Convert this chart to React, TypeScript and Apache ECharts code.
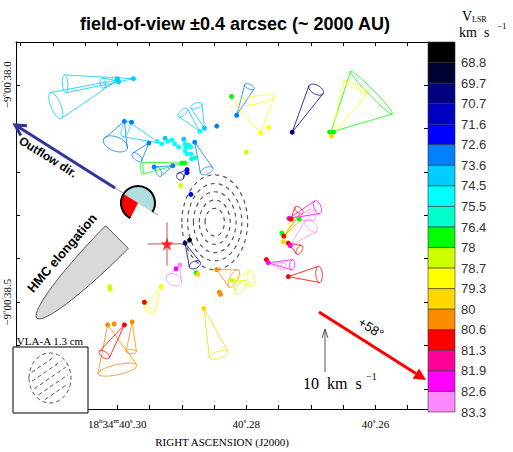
import React, { useEffect, useRef } from "react";
import * as echarts from "echarts";

const TITLE = "field-of-view ±0.4 arcsec (~ 2000 AU)";

// colour bar: bin boundaries (km/s) and bin colours, top to bottom
const vlsrBoundaries = [68.8, 69.7, 70.7, 71.6, 72.6, 73.6, 74.5, 75.5, 76.4, 78, 78.7, 79.3, 80, 80.6, 81.3, 81.9, 82.6, 83.3];
const vlsrColors = ["#000000", "#000033", "#000080", "#0000c0", "#0000ff", "#0080ff", "#00ccff", "#00ffff", "#00ffcc", "#00ff00", "#ccff00", "#ffff00", "#ffd700", "#ff8c00", "#ff0000", "#ff0099", "#ff00ff", "#ff88ff"];

// RA in units of 0.001 s of time (300 = 18h34m40.300s); Dec in units of 0.01" (3800 = -9°00'38.00")
const raTicks = [255, 260, 265, 270, 275, 280, 285, 290, 295, 300, 305, 310, 315];
const raLabelTicks = [260, 280, 300];
const decTicks = [3800, 3810, 3820, 3830, 3840, 3850, 3860, 3870];
const decLabelTicks = [3800, 3850];

// maser spots: [RA, Dec, V_LSR]
const spots = [
  [300.0, 3798.6, 74.0], [299.8, 3799.3, 74.0], [297.5, 3798.6, 74.0],
  [298.9, 3808.4, 73.1], [297.8, 3808.6, 73.1], [295.1, 3813.4, 73.1],
  [294.3, 3818.9, 73.1], [291.4, 3818.6, 73.1], [293.8, 3813.0, 75.0],
  [293.1, 3813.6, 75.0], [292.6, 3812.3, 74.0], [292.2, 3813.0, 75.0],
  [291.5, 3812.7, 75.0], [291.1, 3813.6, 75.0], [290.5, 3814.3, 75.0],
  [289.7, 3812.5, 74.0], [289.5, 3813.6, 75.0], [289.4, 3814.3, 75.0],
  [288.9, 3813.9, 76.0], [288.6, 3814.3, 75.0], [289.5, 3815.2, 75.0],
  [289.2, 3815.9, 75.0], [288.6, 3815.9, 75.0], [288.0, 3813.2, 73.1],
  [288.5, 3817.0, 76.0], [288.0, 3816.8, 76.0], [290.0, 3818.0, 77.2],
  [289.5, 3818.0, 77.2], [289.2, 3819.5, 72.1], [289.2, 3820.2, 72.1],
  [290.2, 3823.2, 78.3], [288.6, 3825.2, 72.1], [287.2, 3810.7, 75.0],
  [286.5, 3810.0, 74.0], [284.6, 3809.5, 73.1], [281.5, 3807.0, 73.1],
  [282.3, 3802.7, 77.2], [277.8, 3811.1, 79.0], [276.5, 3809.8, 79.0],
  [280.0, 3815.5, 78.3], [272.9, 3810.9, 70.2], [267.1, 3810.9, 77.2],
  [266.5, 3810.9, 77.2], [266.8, 3811.8, 79.6], [289.5, 3836.4, 70.2],
  [288.8, 3835.7, 68.3], [290.9, 3842.3, 82.2], [290.3, 3841.4, 82.9],
  [287.8, 3843.2, 77.2], [287.5, 3843.6, 79.6], [301.2, 3846.4, 78.3],
  [301.1, 3847.0, 78.3], [293.2, 3846.4, 79.0], [295.8, 3850.0, 80.9],
  [301.5, 3855.2, 80.3], [300.5, 3855.0, 80.3], [298.9, 3855.2, 80.9],
  [297.7, 3854.5, 80.3], [286.6, 3851.4, 79.6], [284.6, 3842.5, 80.3],
  [282.2, 3845.0, 78.3], [284.2, 3847.7, 80.3], [284.0, 3848.2, 80.3],
  [273.4, 3830.7, 82.2], [273.1, 3830.9, 80.9], [271.8, 3830.9, 77.2],
  [274.5, 3834.1, 77.2], [274.2, 3834.8, 80.9], [274.3, 3836.1, 79.6],
  [273.5, 3836.4, 80.9], [273.2, 3837.0, 82.2], [276.9, 3840.2, 80.9],
  [276.6, 3840.9, 82.2], [273.5, 3844.1, 80.9],
];

// 3-D velocity cones: [RA, Dec, vx (km/s, +west), vy (km/s, +north), half aperture (km/s), base axis ratio, V_LSR]
const cones = [
  [297.5, 3798.6, -16.0, -1.2, 2.1, 0.3, 74.0],
  [300.0, 3798.9, -14.4, -6.0, 3.3, 0.35, 74.0],
  [299.8, 3799.1, -3.7, -0.5, 1.2, 0.5, 74.0],
  [298.9, 3808.4, -2.1, -5.3, 3.0, 0.55, 73.1],
  [293.5, 3813.4, -7.9, 3.3, 1.9, 0.45, 74.0],
  [295.1, 3813.4, -2.8, -3.3, 1.4, 0.5, 73.1],
  [288.0, 3813.2, 2.8, -6.7, 1.6, 0.5, 73.1],
  [289.7, 3818.0, -9.8, -1.2, 1.4, 0.2, 77.2],
  [291.4, 3818.6, -3.3, -1.4, 1.2, 0.5, 73.1],
  [289.2, 3819.5, -1.6, -1.6, 0.9, 0.9, 70.2],
  [287.2, 3810.7, -4.0, 4.4, 1.4, 0.45, 74.0],
  [286.5, 3810.0, -1.9, 5.3, 1.4, 0.45, 74.0],
  [281.5, 3807.0, 3.0, 6.7, 1.2, 0.45, 73.1],
  [277.8, 3811.1, -1.4, 7.7, 4.7, 0.2, 79.0],
  [272.9, 3810.9, 5.6, 10.0, 1.9, 0.55, 70.2],
  [266.9, 3810.9, 9.5, 9.3, 7.0, 0.1, 77.2],
  [266.8, 3811.8, 5.7, 11.6, 3.2, 0.15, 79.0],
  [289.5, 3836.4, 2.3, -5.1, 1.4, 0.6, 70.2],
  [290.3, 3841.4, -1.4, -3.5, 1.9, 0.7, 82.9],
  [284.6, 3842.5, 4.0, -2.1, 2.3, 0.4, 80.3],
  [282.2, 3845.0, 2.1, -1.6, 1.9, 0.5, 78.3],
  [282.2, 3845.0, 4.4, 0.5, 1.9, 0.4, 79.0],
  [293.2, 3846.4, -2.8, -5.6, 1.4, 0.4, 79.0],
  [301.5, 3855.2, 2.3, -10.5, 4.7, 0.25, 80.3],
  [298.9, 3855.2, -4.7, -7.0, 1.4, 0.5, 80.9],
  [297.7, 3854.5, -0.2, -7.0, 1.2, 0.4, 80.3],
  [286.6, 3851.4, 3.5, -10.9, 2.3, 0.35, 79.6],
  [273.4, 3830.7, 6.7, 2.6, 1.6, 0.5, 82.2],
  [273.1, 3830.9, 1.9, 2.1, 1.2, 0.5, 80.9],
  [273.2, 3831.1, 5.1, 1.2, 1.4, 0.5, 82.9],
  [273.2, 3837.0, 4.9, 4.7, 1.9, 0.5, 82.9],
  [273.5, 3836.4, 2.6, -1.6, 1.2, 0.5, 80.9],
  [274.3, 3836.1, 2.3, 5.1, 0.5, 0.5, 79.0],
  [274.2, 3834.8, 3.5, 4.0, 0.5, 0.5, 80.3],
  [276.6, 3840.9, 5.6, -0.5, 1.2, 0.5, 82.2],
  [276.6, 3840.9, 3.5, -0.9, 0.9, 0.6, 82.9],
  [273.5, 3844.1, 7.2, 0.5, 1.9, 0.4, 80.9],
];

// continuum source (star) with position errors: [RA, Dec, errRA, errDec]
const sourcePos = [[292.3, 3836.6, 3.0, 5.0]];
// VLA 1.3 cm continuum contours: [RA, Dec, semi-axis RA, semi-axis Dec]
const contourLevels = [
  [284.9, 3831.6, 5.1, 10.9],
  [284.9, 3831.6, 4.2, 8.9],
  [284.9, 3831.6, 3.3, 7.0],
  [284.9, 3831.6, 2.4, 5.1],
  [284.9, 3831.6, 1.5, 3.2],
];

const MAS_PER_KMS = 9.8; // 10 km/s arrow = 98 mas
const MAS_PER_RA_UNIT = 14.81;
const MAS_PER_DEC_UNIT = 10;
const K_RA = MAS_PER_KMS / MAS_PER_RA_UNIT;
const K_DEC = MAS_PER_KMS / MAS_PER_DEC_UNIT;

function colorFor(v: number) {
  let i = 0;
  while (i < vlsrBoundaries.length && v >= vlsrBoundaries[i]) i++;
  return vlsrColors[Math.min(i, vlsrColors.length - 1)];
}

const SERIF = '"Liberation Serif", "DejaVu Serif", serif';
const SANS = '"Liberation Sans", Arial, sans-serif';

function halfEllipsePts(cx: number, cy: number, ux: number, uy: number, a: number, b: number) {
  const L = Math.hypot(ux, uy);
  ux /= L; uy /= L;
  const nx = -uy, ny = ux;
  const pts: number[][] = [];
  for (let i = 0; i <= 40; i++) {
    const t = -Math.PI / 2 + (i / 40) * Math.PI;
    pts.push([cx + ux * a * Math.cos(t) + nx * b * Math.sin(t), cy + uy * a * Math.cos(t) + ny * b * Math.sin(t)]);
  }
  return pts;
}

function hatchLines(cx: number, cy: number, rx: number, ry: number) {
  const out: any[] = [];
  const dx = Math.cos(0.6), dy = -Math.sin(0.6);
  const mx = -dy, my = dx;
  for (const s of [-15, -7.5, 0, 7.5, 15]) {
    const px = s * mx, py = s * my;
    const A = (dx * dx) / (rx * rx) + (dy * dy) / (ry * ry);
    const B = 2 * ((px * dx) / (rx * rx) + (py * dy) / (ry * ry));
    const C = (px * px) / (rx * rx) + (py * py) / (ry * ry) - 1;
    const D = B * B - 4 * A * C;
    if (D <= 0) continue;
    const t1 = (-B - Math.sqrt(D)) / (2 * A) + 3;
    const t2 = (-B + Math.sqrt(D)) / (2 * A) - 3;
    if (t2 <= t1) continue;
    out.push({
      type: "line", z: 101,
      shape: { x1: cx + px + t1 * dx, y1: cy + py + t1 * dy, x2: cx + px + t2 * dx, y2: cy + py + t2 * dy },
      style: { stroke: "#555", lineWidth: 1, lineDash: [4, 3] },
    });
  }
  return out;
}

export default function App() {
  const ref = useRef<HTMLDivElement>(null);
  useEffect(() => {
    if (!ref.current) return;
    const chart = echarts.init(ref.current, null, { renderer: "svg" });

    const raFormatter = (v: number) => {
      const frac = "." + String(Math.round(v / 10) % 100).padStart(2, "0");
      if (v === Math.max(...raLabelTicks)) return `{n|18}{s|h}{n|34}{s|m}{n|40}{s|s}{n|${frac}}`;
      return `{n|40}{s|s}{n|${frac}}`;
    };
    const decFormatter = (v: number) => `{n|−9}{s|o}{n|00}{s|′}{n|${(v / 100).toFixed(1)}}`;
    const rich = {
      n: { fontSize: 11, fontFamily: SERIF, color: "#000", lineHeight: 13 },
      s: { fontSize: 7, fontFamily: SERIF, color: "#000", lineHeight: 7, verticalAlign: "top" },
    };

    const mainX = {
      type: "value", inverse: true, min: 251.85, max: 315.7, gridIndex: 0,
      splitLine: { show: false },
      axisLine: { show: true, onZero: false, lineStyle: { color: "#000", width: 1 } },
      axisTick: { show: true, inside: true, length: 4, customValues: raTicks, lineStyle: { color: "#000" } },
    };
    const mainY = {
      type: "value", inverse: true, min: 3790.16, max: 3874.55, gridIndex: 0,
      splitLine: { show: false },
      axisLine: { show: true, onZero: false, lineStyle: { color: "#000", width: 1 } },
      axisTick: { show: true, inside: true, length: 4, customValues: decTicks, lineStyle: { color: "#000" } },
    };

    const blueStart = (-148 * Math.PI) / 180;
    const blueEnd = (32 * Math.PI) / 180;
    const redStart = (117 * Math.PI) / 180;
    const redEnd = (212 * Math.PI) / 180;

    const oTip = [15, 125];
    const oU = [0.846, 0.533];
    const wing = (tip: number[], u: number[], ang: number, len: number) => {
      const c = Math.cos(ang), s = Math.sin(ang);
      return [tip[0] + len * (u[0] * c - u[1] * s), tip[1] + len * (u[0] * s + u[1] * c)];
    };
    const rTip = [426, 380];
    const rU = [0.845, 0.535];
    const rBase = [rTip[0] - 12 * rU[0], rTip[1] - 12 * rU[1]];

    const option: any = {
      animation: false,
      backgroundColor: "#fff",
      grid: [
        { left: 13, top: 42, width: 415, height: 371, show: false },
        { left: 428, top: 42, width: 27, height: 370, show: false },
      ],
      xAxis: [
        {
          ...mainX, position: "bottom",
          axisLabel: { show: true, customValues: raLabelTicks, formatter: raFormatter, rich, margin: 8 },
          name: "RIGHT ASCENSION (J2000)", nameLocation: "middle", nameGap: 27,
          nameTextStyle: { fontFamily: SERIF, fontSize: 11, color: "#000" },
        },
        { ...mainX, position: "top", axisLabel: { show: false } },
        { type: "value", gridIndex: 1, min: 0, max: 1, show: false },
      ],
      yAxis: [
        {
          ...mainY, position: "left",
          axisLabel: { show: true, customValues: decLabelTicks, formatter: decFormatter, rich, rotate: 90, margin: 3 },
        },
        { ...mainY, position: "right", axisLabel: { show: false } },
        {
          type: "value", gridIndex: 1, min: 0, max: 18, interval: 1, inverse: true, position: "right",
          splitLine: { show: false }, axisLine: { show: false }, axisTick: { show: false },
          axisLabel: {
            show: true, margin: 6, fontFamily: SANS, fontSize: 13, color: "#333",
            formatter: (v: number) => (v >= 1 ? String(vlsrBoundaries[Math.round(v) - 1]) : ""),
          },
        },
      ],
      series: [
        {
          type: "custom", name: "contours", xAxisIndex: 0, yAxisIndex: 0, data: contourLevels,
          encode: { x: 0, y: 1 }, silent: true,
          renderItem: (params: any, api: any) => {
            const c = api.coord([api.value(0), api.value(1)]);
            const ex = api.coord([api.value(0) + api.value(2), api.value(1) + api.value(3)]);
            return {
              type: "ellipse",
              shape: { cx: c[0], cy: c[1], rx: Math.abs(ex[0] - c[0]), ry: Math.abs(ex[1] - c[1]) },
              style: { fill: "none", stroke: "#555", lineWidth: 1.2, lineDash: [4, 4] },
            };
          },
        },
        {
          type: "custom", name: "cones", xAxisIndex: 0, yAxisIndex: 0, data: cones,
          encode: { x: 0, y: 1 }, silent: true,
          renderItem: (params: any, api: any) => {
            const ra = api.value(0), dec = api.value(1);
            const vx = api.value(2), vy = api.value(3), hw = api.value(4), r = api.value(5), v = api.value(6);
            const a = api.coord([ra, dec]);
            const b = api.coord([ra - vx * K_RA, dec - vy * K_DEC]);
            const refp = api.coord([ra - hw * K_RA, dec]);
            const h = Math.abs(refp[0] - a[0]);
            let ux = b[0] - a[0], uy = b[1] - a[1];
            const L = Math.hypot(ux, uy) || 1;
            ux /= L; uy /= L;
            const nx = -uy, ny = ux;
            const pts: number[][] = [];
            for (let i = 0; i <= 48; i++) {
              const t = (i / 48) * 2 * Math.PI;
              pts.push([
                b[0] + nx * h * Math.cos(t) + ux * h * r * Math.sin(t),
                b[1] + ny * h * Math.cos(t) + uy * h * r * Math.sin(t),
              ]);
            }
            const color = colorFor(v);
            const st = { stroke: color, fill: "none", lineWidth: 1, opacity: 0.8 };
            return {
              type: "group",
              children: [
                { type: "polyline", shape: { points: pts }, style: st },
                { type: "polyline", shape: { points: [[b[0] + nx * h, b[1] + ny * h], a, [b[0] - nx * h, b[1] - ny * h]] }, style: st },
              ],
            };
          },
        },
        {
          type: "scatter", name: "spots", xAxisIndex: 0, yAxisIndex: 0, data: spots,
          encode: { x: 0, y: 1 }, symbolSize: 5, silent: true,
          itemStyle: { color: (p: any) => colorFor(p.value[2]), opacity: 1 },
        },
        {
          type: "custom", name: "source errors", xAxisIndex: 0, yAxisIndex: 0, data: sourcePos,
          encode: { x: 0, y: 1 }, silent: true,
          renderItem: (params: any, api: any) => {
            const ra = api.value(0), dec = api.value(1), er = api.value(2), ed = api.value(3);
            const l = api.coord([ra + er, dec]), rr = api.coord([ra - er, dec]);
            const t = api.coord([ra, dec - ed]), bb = api.coord([ra, dec + ed]);
            const st = { stroke: "#c85050", lineWidth: 1 };
            return {
              type: "group",
              children: [
                { type: "line", shape: { x1: l[0], y1: l[1], x2: rr[0], y2: rr[1] }, style: st },
                { type: "line", shape: { x1: t[0], y1: t[1], x2: bb[0], y2: bb[1] }, style: st },
              ],
            };
          },
        },
        {
          type: "scatter", name: "source", xAxisIndex: 0, yAxisIndex: 0, data: sourcePos.map((d) => [d[0], d[1]]),
          symbol: "path://M0,-10 L2.35,-3.24 L9.51,-3.09 L3.8,1.24 L5.88,8.09 L0,4 L-5.88,8.09 L-3.8,1.24 L-9.51,-3.09 L-2.35,-3.24 Z",
          symbolSize: 13, silent: true, itemStyle: { color: "#ff0000" },
        },
        {
          type: "custom", name: "colorbar", xAxisIndex: 2, yAxisIndex: 2,
          data: vlsrColors.map((c, i) => [i]), silent: true,
          renderItem: (params: any, api: any) => {
            const i = api.value(0);
            const p0 = api.coord([0, i]);
            const p1 = api.coord([1, i + 1]);
            return {
              type: "rect",
              shape: { x: p0[0], y: Math.min(p0[1], p1[1]), width: p1[0] - p0[0], height: Math.abs(p1[1] - p0[1]) },
              style: { fill: vlsrColors[i], stroke: "#333", lineWidth: 0.6 },
            };
          },
        },
      ],
      graphic: [
        { type: "text", x: 235, y: 24, style: { text: TITLE, fontFamily: SANS, fontWeight: "bold", fontSize: 18, fill: "#000", align: "center", verticalAlign: "middle" } },
        { type: "text", x: 462, y: 16, style: { text: "V", fontFamily: SERIF, fontSize: 14, fill: "#000", align: "left", verticalAlign: "middle" } },
        { type: "text", x: 472, y: 19, style: { text: "LSR", fontFamily: SERIF, fontSize: 8, fill: "#000", align: "left", verticalAlign: "middle" } },
        { type: "text", x: 459, y: 32, style: { text: "km  s", fontFamily: SERIF, fontSize: 14, fill: "#000", align: "left", verticalAlign: "middle" } },
        { type: "text", x: 497, y: 26, style: { text: "−1", fontFamily: SERIF, fontSize: 9, fill: "#000", align: "left", verticalAlign: "middle" } },

        // outflow direction
        { type: "line", z: 50, shape: { x1: 115, y1: 188, x2: 158, y2: 215 }, style: { stroke: "#999", lineWidth: 1 } },
        { type: "line", z: 50, shape: { x1: 115, y1: 188, x2: 17, y2: 126 }, style: { stroke: "#333399", lineWidth: 3 } },
        { type: "polyline", z: 50, shape: { points: [wing(oTip, oU, 0.5, 12), oTip, wing(oTip, oU, -0.5, 12)] }, style: { stroke: "#333399", lineWidth: 3, fill: "none" } },
        { type: "text", z: 50, x: 48, y: 157, rotation: -0.56, style: { text: "Outflow dir.", fontFamily: SANS, fontWeight: "bold", fontSize: 12, fill: "#000", align: "center", verticalAlign: "middle" } },
        { type: "sector", z: 51, shape: { cx: 138, cy: 203, r: 17, r0: 0, startAngle: blueStart, endAngle: blueEnd, clockwise: true }, style: { fill: "#b0dde0" } },
        { type: "sector", z: 51, shape: { cx: 138, cy: 203, r: 17, r0: 0, startAngle: redStart, endAngle: redEnd, clockwise: true }, style: { fill: "#ff0000" } },
        { type: "arc", z: 52, shape: { cx: 138, cy: 203, r: 17, startAngle: redStart, endAngle: blueEnd + 2 * Math.PI, clockwise: true }, style: { stroke: "#000", lineWidth: 2, fill: "none" } },

        // HMC elongation
        { type: "polygon", z: 50, shape: { points: halfEllipsePts(117, 237, -80, 81, 114, 16) }, style: { fill: "#d9d9d9", stroke: "#555", lineWidth: 1 } },
        { type: "text", z: 50, x: 62, y: 253, rotation: 0.86, style: { text: "HMC elongation", fontFamily: SANS, fontWeight: "bold", fontSize: 13, fill: "#000", align: "center", verticalAlign: "middle" } },

        // inset beam
        { type: "rect", z: 100, shape: { x: 13, y: 347, width: 75, height: 66 }, style: { fill: "#fff", stroke: "#000", lineWidth: 1 } },
        { type: "text", z: 100, x: 50, y: 341, style: { text: "VLA-A 1.3 cm", fontFamily: SERIF, fontSize: 11, fill: "#000", align: "center", verticalAlign: "middle" } },
        { type: "ellipse", z: 101, shape: { cx: 50, cy: 378, rx: 21, ry: 25 }, style: { fill: "none", stroke: "#555", lineWidth: 1, lineDash: [4, 3] } },
        ...hatchLines(50, 378, 21, 25),

        // proper-motion direction arrow
        { type: "line", z: 50, shape: { x1: 319, y1: 312, x2: rBase[0], y2: rBase[1] }, style: { stroke: "#ff0000", lineWidth: 3 } },
        { type: "polygon", z: 50, shape: { points: [rTip, [rBase[0] - 6 * rU[1], rBase[1] + 6 * rU[0]], [rBase[0] + 6 * rU[1], rBase[1] - 6 * rU[0]]] }, style: { fill: "#ff0000" } },
        { type: "text", z: 50, x: 371, y: 328, rotation: -0.56, style: { text: "+58°", fontFamily: SANS, fontSize: 13, fill: "#000", align: "center", verticalAlign: "middle" } },

        // 10 km/s scale
        { type: "line", z: 50, shape: { x1: 325, y1: 372, x2: 325, y2: 329 }, style: { stroke: "#555", lineWidth: 1 } },
        { type: "polyline", z: 50, shape: { points: [[322, 338], [325, 329], [328, 338]] }, style: { stroke: "#555", lineWidth: 1, fill: "none" } },
        { type: "text", z: 50, x: 303, y: 383, style: { text: "10  km  s", fontFamily: SERIF, fontSize: 16, fill: "#000", align: "left", verticalAlign: "middle" } },
        { type: "text", z: 50, x: 366, y: 376, style: { text: "−1", fontFamily: SERIF, fontSize: 10, fill: "#000", align: "left", verticalAlign: "middle" } },
      ],
    };
    chart.setOption(option);
    return () => chart.dispose();
  }, []);
  return <div ref={ref} style={{ position: "absolute", left: 0, top: 0, width: 513, height: 452 }} />;
}
